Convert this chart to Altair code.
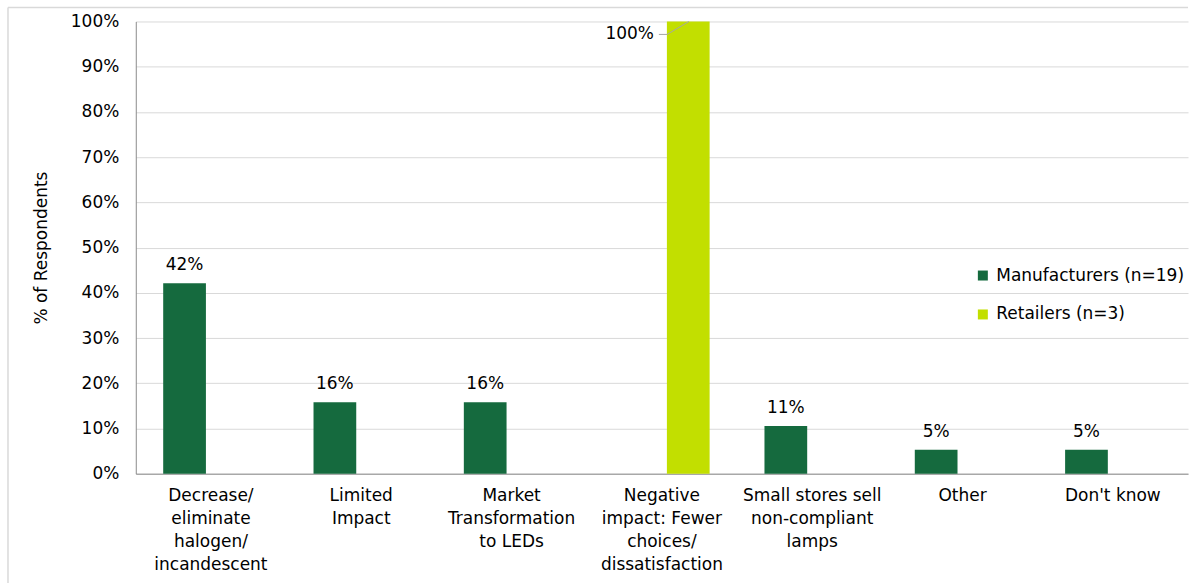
import altair as alt
import pandas as pd

# Survey responses: share of respondents per reported impact
categories = [
    "Decrease/\neliminate\nhalogen/\nincandescent",
    "Limited\nImpact",
    "Market\nTransformation\nto LEDs",
    "Negative\nimpact: Fewer\nchoices/\ndissatisfaction",
    "Small stores sell\nnon-compliant\nlamps",
    "Other",
    "Don't know",
]
series = ["Manufacturers (n=19)", "Retailers (n=3)"]
manufacturers = [0.421, 0.158, 0.158, 0.0, 0.1053, 0.053, 0.053]
retailers = [0.0, 0.0, 0.0, 1.0, 0.0, 0.0, 0.0]
y_ticks = [0.0, 0.1, 0.2, 0.3, 0.4, 0.5, 0.6, 0.7, 0.8, 0.9, 1.0]

colors = ["#156A3E", "#C2DF00"]
FONT = "DejaVu Sans"

rows = []
for cat, m, r in zip(categories, manufacturers, retailers):
    rows.append({"category": cat, "series": series[0], "value": m})
    rows.append({"category": cat, "series": series[1], "value": r})
df = pd.DataFrame(rows)

x_enc = alt.X(
    "category:N",
    sort=categories,
    scale=alt.Scale(paddingInner=0, paddingOuter=0),
    axis=alt.Axis(
        title=None,
        labelAngle=0,
        labelExpr="split(datum.label, '\\n')",
        labelFont=FONT,
        labelFontSize=17,
        labelLineHeight=23,
        labelPadding=14,
        labelColor="#000000",
        labelLimit=0,
        ticks=False,
        domainColor="#8c8c8c",
        grid=False,
    ),
)
xoff_enc = alt.XOffset(
    "series:N",
    sort=series,
    scale=alt.Scale(paddingInner=0.19, paddingOuter=0.52),
)
y_enc = alt.Y(
    "value:Q",
    scale=alt.Scale(domain=[0, 1], nice=False),
    axis=alt.Axis(
        title="% of Respondents",
        titleFont=FONT,
        titleFontSize=17,
        titleFontWeight="normal",
        titleColor="#000000",
        titlePadding=20,
        format=".0%",
        values=y_ticks,
        labelFont=FONT,
        labelFontSize=17,
        labelColor="#000000",
        labelPadding=17,
        ticks=False,
        gridColor="#d9d9d9",
        domainColor="#8c8c8c",
    ),
)

base = alt.Chart(df)

bars = base.mark_bar().encode(
    x=x_enc,
    xOffset=xoff_enc,
    y=y_enc,
    color=alt.Color(
        "series:N",
        sort=series,
        scale=alt.Scale(domain=series, range=colors),
        legend=alt.Legend(
            title=None,
            orient="none",
            legendX=840,
            legendY=246,
            padding=0,
            symbolType="square",
            symbolSize=100,
            symbolStrokeWidth=0,
            labelFont=FONT,
            labelFontSize=17,
            labelColor="#000000",
            labelOffset=5,
            labelLimit=0,
            rowPadding=21,
        ),
    ),
)

# Value labels above the manufacturer bars
m_labels = (
    base.transform_filter(f"datum.series == '{series[0]}' && datum.value > 0")
    .mark_text(font=FONT, fontSize=17, color="#000000", baseline="alphabetic", dy=-13)
    .encode(
        x=alt.X("category:N", sort=categories),
        xOffset=alt.XOffset("series:N", sort=series),
        y="value:Q",
        text=alt.Text("value:Q", format=".0%"),
    )
)

# Retailer label sits to the left of its bar with a leader line
r_data = base.transform_filter(f"datum.series == '{series[1]}' && datum.value > 0")
r_label = r_data.mark_text(
    font=FONT, fontSize=17, color="#000000", align="right", baseline="middle", dy=13
).encode(
    x=alt.X("category:N", sort=categories, bandPosition=0.447),
    y="value:Q",
    text=alt.Text("value:Q", format=".0%"),
)
leader_flat = r_data.mark_rule(color="#a6a6a6", strokeWidth=1).encode(
    x=alt.X("category:N", sort=categories, bandPosition=0.48),
    x2=alt.X2("category:N", bandPosition=0.535),
    y=alt.value(13),
)
leader_up = r_data.mark_rule(color="#a6a6a6", strokeWidth=1).encode(
    x=alt.X("category:N", sort=categories, bandPosition=0.68),
    x2=alt.X2("category:N", bandPosition=0.535),
    y="value:Q",
    y2=alt.value(13),
)

# Thin frame around the figure
frame_df = pd.DataFrame({"k": [0]})
frame_top = alt.Chart(frame_df).mark_rule(color="#d9d9d9", strokeWidth=1.5).encode(
    x=alt.value(-128), x2=alt.value(1054), y=alt.value(-14)
)
frame_left = alt.Chart(frame_df).mark_rule(color="#d9d9d9", strokeWidth=1.5).encode(
    x=alt.value(-128), y=alt.value(-14), y2=alt.value(563)
)

chart = (
    alt.layer(frame_top, frame_left, bars, m_labels, r_label, leader_flat, leader_up)
    .properties(
        width=1054,
        height=453,
        padding={"left": 7, "top": 6, "right": 0, "bottom": 0},
        background="#ffffff",
    )
    .configure_view(stroke=None)
)

chart.save("out.html", embed_options={"renderer": "svg", "actions": False})
